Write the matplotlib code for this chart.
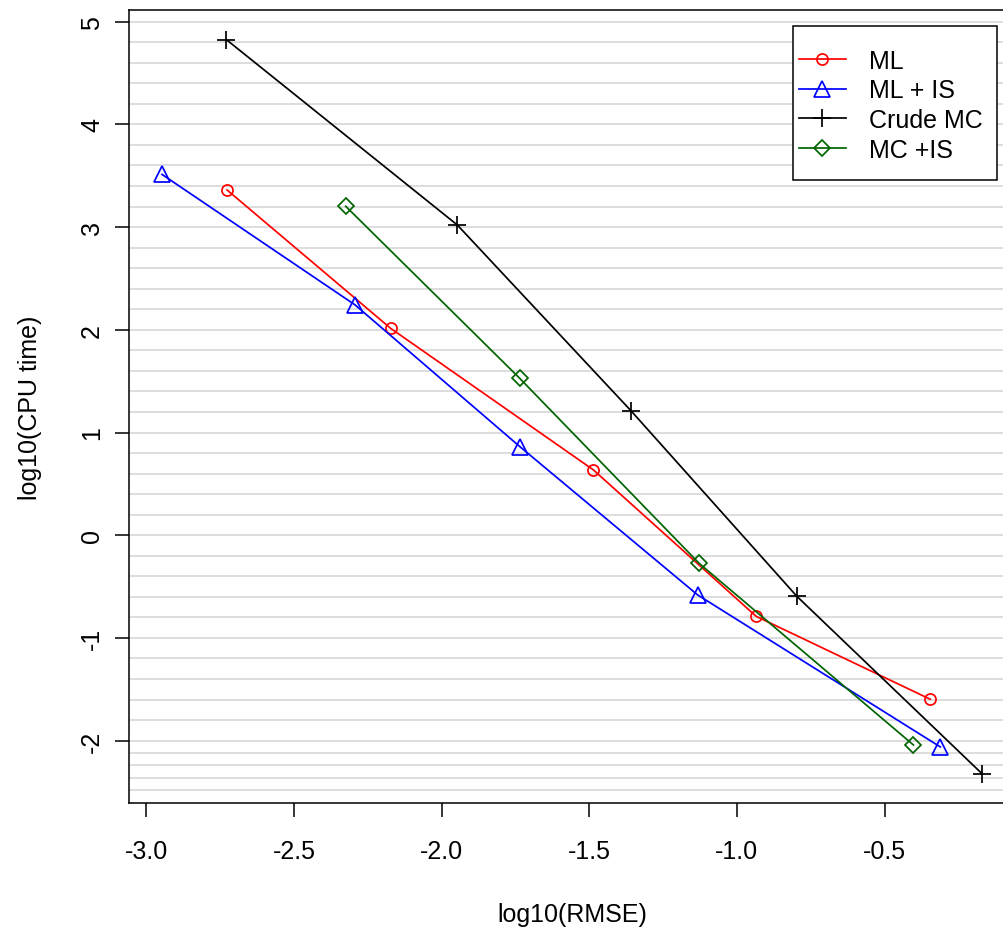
import matplotlib
matplotlib.use("Agg")
import matplotlib.pyplot as plt
from matplotlib.patches import Rectangle
import numpy as np

plt.rcParams["font.family"] = ["Liberation Sans", "DejaVu Sans"]
plt.rcParams["axes.unicode_minus"] = False

# log10(RMSE), log10(CPU time)
ml_x = [-2.727, -2.173, -1.486, -0.935, -0.345]
ml_y = [3.362, 2.015, 0.636, -0.789, -1.597]

mlis_x = [-2.947, -2.293, -1.734, -1.133, -0.311]
mlis_y = [3.513, 2.242, 0.860, -0.581, -2.061]

crude_x = [-2.729, -1.947, -1.359, -0.797, -0.170]
crude_y = [4.825, 3.021, 1.213, -0.594, -2.321]

mcis_x = [-2.325, -1.736, -1.128, -0.402]
mcis_y = [3.203, 1.529, -0.273, -2.042]

x_ticks = [-3.0, -2.5, -2.0, -1.5, -1.0, -0.5]
y_ticks = [-2, -1, 0, 1, 2, 3, 4, 5]
grid_y = list(np.arange(-2.0, 5.01, 0.2)) + [-2.12, -2.24, -2.36, -2.48]

fig = plt.figure(figsize=(10.04, 9.29), dpi=100)
W, H = 1004, 929
# plot region runs past the right edge of the picture
ax = fig.add_axes([129 / W, 1 - 804 / H, (1015 - 129) / W, (804 - 11) / H])
ax.set_xlim(-3.059, -0.058)
ax.set_ylim(-2.607, 5.114)

for g in grid_y:
    ax.axhline(g, color="#d3d3d3", lw=1.1, zorder=1)

lw = 1.25
ax.plot(ml_x, ml_y, color="red", marker="o", ms=8, mfc="none", mew=lw, lw=lw,
        label="ML", zorder=3)
ax.plot(mlis_x, mlis_y, color="blue", marker="^", ms=11.5, mfc="none", mew=lw, lw=lw,
        label="ML + IS", zorder=3)
ax.plot(crude_x, crude_y, color="black", marker="+", ms=13, mew=lw, lw=lw,
        label="Crude MC", zorder=3)
ax.plot(mcis_x, mcis_y, color="#006400", marker="D", ms=8.5, mfc="none", mew=lw, lw=lw,
        label="MC +IS", zorder=3)

ax.set_xticks(x_ticks)
ax.set_xticklabels(["%.1f" % v for v in x_ticks])
ax.set_yticks(y_ticks)
ax.set_yticklabels([str(v) for v in y_ticks], rotation=90, va="center")
ax.tick_params(axis="both", length=10, width=1.1, labelsize=18, direction="out")
ax.tick_params(axis="x", pad=16)
ax.tick_params(axis="y", pad=8)

for s in ax.spines.values():
    s.set_linewidth(1.1)

ax.set_xlabel("log10(RMSE)", fontsize=18, labelpad=28)
ax.set_ylabel("log10(CPU time)", fontsize=18, labelpad=27)

# R-style legend box: drawn by hand so the padding matches
box = Rectangle((793 / W, 1 - 181 / H), (997 - 793) / W, (181 - 27) / H,
                transform=fig.transFigure, facecolor="white", edgecolor="black",
                lw=1.1, zorder=4)
ax.add_artist(box)
leg = ax.legend(loc="upper left", bbox_to_anchor=(799 / W, 1 - 50 / H),
                bbox_transform=fig.transFigure, borderaxespad=0, borderpad=0,
                fontsize=18, frameon=False, handlelength=1.88,
                handletextpad=0.92, labelspacing=0.22, numpoints=1)
leg.set_zorder(5)

fig.savefig("out.png", dpi=100)
